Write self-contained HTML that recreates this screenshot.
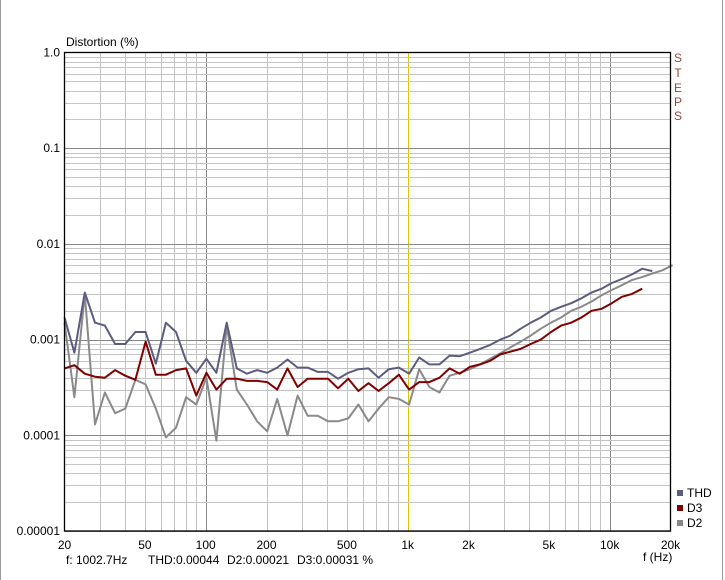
<!DOCTYPE html>
<html><head><meta charset="utf-8"><style>
body{margin:0;background:#fff;}
svg{display:block;font-family:"Liberation Sans",sans-serif;}
</style></head><body>
<svg id="chart" width="725" height="580" viewBox="0 0 725 580" xmlns="http://www.w3.org/2000/svg">
<rect x="0" y="0" width="725" height="580" fill="#fff"/>
<line x1="0.5" y1="0" x2="0.5" y2="580" stroke="#999"/>
<line x1="722.5" y1="0" x2="722.5" y2="580" stroke="#999"/>
<g id="grid"></g>
<g id="series"></g>
<rect x="64.5" y="52.5" width="606" height="478.5" fill="none" stroke="#000" stroke-width="1.3"/>
<text x="66" y="46" font-size="12" fill="#000">Distortion (%)</text>
<text x="643" y="561" font-size="12" fill="#000">f (Hz)</text>
<g font-size="12" fill="#8b4a3a" text-anchor="middle">
<text x="678" y="62">S</text><text x="678" y="77">T</text><text x="678" y="92">E</text><text x="678" y="106">P</text><text x="678" y="120">S</text>
</g>
<text font-size="12" fill="#000" y="564"><tspan x="66">f: 1002.7Hz</tspan><tspan x="148">THD:0.00044</tspan><tspan x="227">D2:0.00021</tspan><tspan x="297">D3:0.00031 %</tspan></text>
<g font-size="12" fill="#000">
<g><rect x="677" y="490" width="6" height="6" fill="#5c5c80"/><text x="687" y="497">THD</text></g>
<g><rect x="677" y="505" width="6" height="6" fill="#800000"/><text x="687" y="512">D3</text></g>
<g><rect x="677" y="520" width="6" height="6" fill="#888"/><text x="687" y="527">D2</text></g>
</g>
<g id="labels" font-size="12" fill="#000"></g>
</svg>
<script>
const freqs=[20,22.4,25.2,28.3,31.7,35.6,40,44.9,50.4,56.6,63.5,71.3,80,89.8,100.8,113,127,142.5,160,179.6,201.6,226,254,285,320,359,403,452,508,570,640,718,806,905,1016,1140,1280,1437,1613,1810,2032,2281,2560,2874,3225,3620,4064,4561,5120,5747,6451,7241,8128,9123,10240,11494,12902,14482,16255,18246,20480];
const thd=[.0017,.00073,.0031,.0015,.0014,.0009,.0009,.0012,.0012,.00056,.0015,.0012,.0006,.00045,.00063,.00045,.0015,.0005,.00044,.00048,.00045,.00051,.00062,.00051,.00051,.00046,.00046,.00039,.00045,.00049,.0005,.0004,.00049,.00051,.00044,.00065,.00055,.00055,.00068,.00067,.00073,.0008,.00088,.001,.0011,.0013,.0015,.0017,.002,.0022,.0024,.0027,.0031,.0034,.0039,.0043,.0048,.0055,.0052];
const d3=[.0005,.00054,.00044,.00041,.0004,.00048,.00042,.00038,.00095,.00043,.00043,.00048,.0005,.00026,.00045,.0003,.00039,.00039,.00037,.00037,.00036,.0003,.0005,.00032,.00039,.00039,.00039,.00031,.00039,.00029,.00035,.00029,.00035,.00043,.0003,.00036,.00036,.0004,.0005,.00044,.00052,.00055,.0006,.0007,.00075,.0008,.0009,.001,.0012,.0014,.0015,.0017,.002,.0021,.0024,.0028,.003,.0034];
const d2=[.0015,.00025,.003,.00013,.00028,.00017,.00019,.00038,.00034,.00019,.000095,.00012,.00025,.00021,.0004,.000088,.0014,.0003,.00021,.00014,.00011,.00024,.0001,.00026,.00016,.00016,.00014,.00014,.00015,.00021,.00014,.00019,.00025,.00024,.00021,.00049,.00032,.00028,.00042,.00045,.00049,.00055,.00063,.00072,.00083,.00095,.0011,.0013,.0015,.0017,.002,.0022,.0025,.0029,.0033,.0037,.0042,.0045,.0049,.0053,.006];
const xTicks=[20,50,100,200,500,1000,2000,5000,10000,20000];
const xTickLabels=["20","50","100","200","500","1k","2k","5k","10k","20k"];
const yTicks=[1,0.1,0.01,0.001,0.0001,0.00001];
const yTickLabels=["1.0","0.1","0.01","0.001","0.0001","0.00001"];
const X0=64.5,X1=670.5,Y0=52.5,Y1=531;
function xs(f){return X0+(Math.log10(f)-Math.log10(20))/3*(X1-X0);}
function ys(v){return Y0+(0-Math.log10(v))/5*(Y1-Y0);}
const NS="http://www.w3.org/2000/svg";
const grid=document.getElementById('grid');
function ln(x1,y1,x2,y2,c,name){const l=document.createElementNS(NS,'line');l.setAttribute('x1',x1);l.setAttribute('y1',y1);l.setAttribute('x2',x2);l.setAttribute('y2',y2);l.setAttribute('stroke',c);


grid.appendChild(l);}
for(let d=1;d<=1000;d*=10){for(let m=1;m<10;m++){const f=10*d*m;if(f<=20||f>=20000)continue;const x=Math.round(xs(f))+0.5;let c='#c4c4c4';if(f===1000)c='#d4c800';else if(m===1)c='#888';ln(x,Y0,x,Y1,c,'x-gridline');}}
for(let e=0;e<5;e++){for(let m=1;m<10;m++){const v=Math.pow(10,-e-1)*m;if(v>=1)continue;const y=Math.round(ys(v))+0.5;ln(X0,y,X1,y,m===1?'#888':'#c4c4c4','y-gridline');}}
const labels=document.getElementById('labels');
function tx(x,y,s,anchor,name){const t=document.createElementNS(NS,'text');t.setAttribute('x',x);t.setAttribute('y',y);t.setAttribute('text-anchor',anchor);t.textContent=s;


labels.appendChild(t);}
xTicks.forEach((f,i)=>tx(xs(f),549,xTickLabels[i],'middle','x-tick-label'));
yTicks.forEach((v,i)=>tx(60,ys(v)+4,yTickLabels[i],'end','y-tick-label'));
const sg=document.getElementById('series');
function series(vals,color,name){const pts=vals.map((v,i)=>xs(freqs[i]).toFixed(1)+','+ys(v).toFixed(1)).join(' ');const p=document.createElementNS(NS,'polyline');p.setAttribute('points',pts);p.setAttribute('fill','none');p.setAttribute('stroke',color);p.setAttribute('stroke-width','2');p.setAttribute('stroke-linejoin','round');


sg.appendChild(p);}
series(d2,'#8a8a8a','d2-line');
series(thd,'#5c5c80','thd-line');
series(d3,'#800000','d3-line');
</script>
</body></html>
